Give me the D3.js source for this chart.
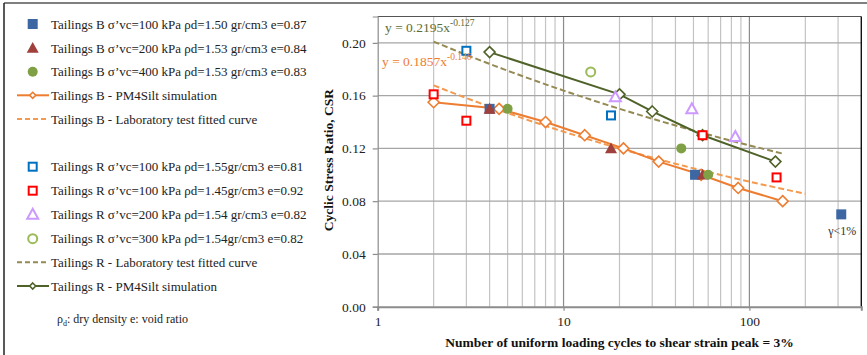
<!DOCTYPE html>
<html lang="en">
<head>
<meta charset="UTF-8">
<title>CSR vs cycles</title>
<script src="https://d3js.org/d3.v7.min.js"></script>
<style>
  body { margin: 0; background: #fff; }
  svg { display: block; }
  text { font-family: "Liberation Serif", "Times New Roman", serif; }
</style>
</head>
<body>
<svg id="chart" width="867" height="355"></svg>
<script>
// ---- data (cycles, CSR) ----
const bB100 = [[4, 0.150], [51, 0.100], [312, 0.070]];
const bB200 = [[4, 0.150], [18, 0.120], [56, 0.100]];
const bB400 = [[5, 0.150], [43, 0.120], [60, 0.100]];
const bSim  = [[2, 0.155], [4.5, 0.150], [8, 0.140], [13, 0.130], [21, 0.120], [32.5, 0.110], [55, 0.100], [87, 0.090], [151, 0.080]];
const bFit  = { a: 0.1857, b: -0.146, from: 2, to: 200 };

const rR100a = [[3, 0.194], [18, 0.145]];
const rR100b = [[2, 0.161], [3, 0.141], [56, 0.130], [140, 0.098]];
const rR200  = [[19, 0.159], [49, 0.150], [84, 0.129]];
const rR300  = [[14, 0.178]];
const rFit   = { a: 0.2195, b: -0.127, from: 2, to: 150 };
const rSim   = [[4, 0.193], [20, 0.161], [30, 0.148], [56, 0.130], [138, 0.110]];

const yTicks = [0, 0.04, 0.08, 0.12, 0.16, 0.20];
const xTicks = [1, 10, 100];

const legendItems = [
  { label: "Tailings B σ’vc=100 kPa ρd=1.50 gr/cm3 e=0.87", kind: "square", color: "#3D67A3", fill: true },
  { label: "Tailings B σ’vc=200 kPa ρd=1.53 gr/cm3 e=0.84", kind: "triangle", color: "#A0403D", fill: true },
  { label: "Tailings B σ’vc=400 kPa ρd=1.53 gr/cm3 e=0.83", kind: "circle", color: "#80A046", fill: true },
  { label: "Tailings B - PM4Silt simulation", kind: "simline", color: "#ED7D31" },
  { label: "Tailings B - Laboratory test fitted curve", kind: "dash", color: "#F39A4E" },
  null,
  { label: "Tailings R σ’vc=100 kPa ρd=1.55gr/cm3 e=0.81", kind: "square", color: "#0070C0", fill: false },
  { label: "Tailings R σ’vc=100 kPa ρd=1.45gr/cm3 e=0.92", kind: "square", color: "#FF0000", fill: false },
  { label: "Tailings R σ’vc=200 kPa ρd=1.54 gr/cm3 e=0.82", kind: "triangle", color: "#CC99FF", fill: false },
  { label: "Tailings R σ’vc=300 kPa ρd=1.54gr/cm3 e=0.82", kind: "circle", color: "#9BBB59", fill: false },
  { label: "Tailings R - Laboratory test fitted curve", kind: "dash", color: "#948A54" },
  { label: "Tailings R - PM4Silt simulation", kind: "simline", color: "#4F6228" }
];

const svg = d3.select("#chart");
const W = 867, H = 355;
const m = { left: 377.7, right: 861.3, top: 16.5, bottom: 306.7 };

const x = d3.scaleLog().domain([1, 400]).range([m.left, m.right]);
const y = d3.scaleLinear().domain([0, 0.22]).range([m.bottom, m.top]);

// outer frame (only top and left visible)
svg.append("line").attr("x1", 4).attr("x2", W).attr("y1", 3).attr("y2", 3)
  .attr("stroke", "#555").attr("stroke-width", 1.5);
svg.append("line").attr("x1", 4).attr("x2", 4).attr("y1", 3).attr("y2", H)
  .attr("stroke", "#222").attr("stroke-width", 1.5);

// grid
const grid = svg.append("g");
const minor = [];
for (let k = 1; k <= 100; k *= 10)
  for (let j = 2; j <= 9; j++) if (j * k < 400) minor.push(j * k);
grid.selectAll(".minor").data(minor).enter().append("line")
  .attr("x1", d => x(d)).attr("x2", d => x(d))
  .attr("y1", m.top).attr("y2", m.bottom)
  .attr("stroke", "#c4c4c4").attr("stroke-width", 1.2);
grid.selectAll(".major").data(xTicks.slice(1)).enter().append("line")
  .attr("x1", d => x(d)).attr("x2", d => x(d))
  .attr("y1", m.top).attr("y2", m.bottom)
  .attr("stroke", "#8c8c8c").attr("stroke-width", 1.2);
grid.selectAll(".hgrid").data(yTicks.slice(1)).enter().append("line")
  .attr("x1", m.left).attr("x2", m.right)
  .attr("y1", d => y(d)).attr("y2", d => y(d))
  .attr("stroke", "#a6a6a6").attr("stroke-width", 1.4);

// plot frame
svg.append("line").attr("x1", m.left).attr("x2", m.right).attr("y1", m.top).attr("y2", m.top)
  .attr("stroke", "#555").attr("stroke-width", 1.2);
svg.append("line").attr("x1", m.right).attr("x2", m.right).attr("y1", m.top).attr("y2", m.bottom)
  .attr("stroke", "#111").attr("stroke-width", 1.4);

// axes
const yAxis = svg.append("g").attr("transform", `translate(${m.left},0)`)
  .call(d3.axisLeft(y).tickValues(yTicks).tickFormat(d3.format(".2f")).tickSize(5).tickPadding(7));
const xAxis = svg.append("g").attr("transform", `translate(0,${m.bottom})`)
  .call(d3.axisBottom(x).tickValues(xTicks).tickFormat(d3.format("d")).tickSize(4).tickPadding(6));
[yAxis, xAxis].forEach(a => {
  a.selectAll("text").attr("font-size", 13.5).attr("fill", "#222")
    .attr("font-family", "Liberation Serif, serif");
  a.selectAll("line").attr("stroke", "#8c8c8c").attr("stroke-width", 1.2);
  a.select(".domain").attr("stroke", "#8c8c8c");
});
xAxis.select(".domain").attr("stroke-width", 2);
yAxis.select(".domain").attr("stroke-width", 1.2);

// axis titles
svg.append("text").attr("x", (m.left + m.right) / 2).attr("y", 347)
  .attr("text-anchor", "middle").attr("font-weight", "bold").attr("font-size", 13.5)
  .attr("fill", "#111")
  .text("Number of uniform loading cycles to shear strain peak = 3%");
svg.append("text").attr("transform", "translate(333,160) rotate(-90)")
  .attr("text-anchor", "middle").attr("font-weight", "bold").attr("font-size", 13.5)
  .attr("fill", "#111")
  .text("Cyclic Stress Ratio, CSR");

const plot = svg.append("g");
const line = d3.line().x(d => x(d[0])).y(d => y(d[1]));

// fitted curves
function fitPts(f) {
  return d3.range(0, 41).map(i => {
    const c = f.from * Math.pow(f.to / f.from, i / 40);
    return [c, f.a * Math.pow(c, f.b)];
  });
}
plot.append("path").attr("d", line(fitPts(rFit))).attr("fill", "none")
  .attr("stroke", "#948A54").attr("stroke-width", 2).attr("stroke-dasharray", "6,3");
plot.append("path").attr("d", line(fitPts(bFit))).attr("fill", "none")
  .attr("stroke", "#F39A4E").attr("stroke-width", 2).attr("stroke-dasharray", "6,3");

// symbol helpers
function drawMarker(g, kind, cx, cy, color, fill) {
  if (kind === "square") {
    const s = fill ? 10 : 8;
    g.append("rect").attr("x", cx - s / 2).attr("y", cy - s / 2).attr("width", s).attr("height", s)
      .attr("fill", fill ? color : "#fff").attr("stroke", color).attr("stroke-width", fill ? 0 : 2);
  } else if (kind === "triangle") {
    const s = fill ? 6 : 5.5;
    g.append("path")
      .attr("d", `M${cx},${cy - s}L${cx + s},${cy + s * 0.8}L${cx - s},${cy + s * 0.8}Z`)
      .attr("fill", fill ? color : "#fff").attr("stroke", color).attr("stroke-width", fill ? 0 : 2);
  } else if (kind === "circle") {
    g.append("circle").attr("cx", cx).attr("cy", cy).attr("r", fill ? 5 : 4.5)
      .attr("fill", fill ? color : "#fff").attr("stroke", color).attr("stroke-width", fill ? 0 : 2);
  } else if (kind === "diamond") {
    const s = fill || 5.5;
    g.append("path")
      .attr("d", `M${cx},${cy - s}L${cx + s},${cy}L${cx},${cy + s}L${cx - s},${cy}Z`)
      .attr("fill", "#fff").attr("stroke", color).attr("stroke-width", 1.6);
  }
}

// simulations
function drawSim(data, color) {
  plot.append("path").attr("d", line(data)).attr("fill", "none")
    .attr("stroke", color).attr("stroke-width", 2);
  data.forEach(d => drawMarker(plot, "diamond", x(d[0]), y(d[1]), color));
}
drawSim(bSim, "#ED7D31");
drawSim(rSim, "#4F6228");

// test points
function drawPts(data, kind, color, fill) {
  data.forEach(d => drawMarker(plot, kind, x(d[0]), y(d[1]), color, fill));
}
drawPts(rR100a, "square", "#0070C0", false);
drawPts(rR100b, "square", "#FF0000", false);
drawPts(rR200, "triangle", "#CC99FF", false);
drawPts(rR300, "circle", "#9BBB59", false);
drawPts(bB100, "square", "#3D67A3", true);
drawPts(bB200, "triangle", "#A0403D", true);
drawPts(bB400, "circle", "#80A046", true);

// note on last point
svg.append("text").attr("x", x(bB100[2][0]) + 1).attr("y", y(bB100[2][1]) + 21)
  .attr("text-anchor", "middle").attr("font-family", "Liberation Sans, sans-serif")
  .attr("font-size", 12).attr("fill", "#333").text("γ<1%");

// equations
const eqR = svg.append("text").attr("x", 385).attr("y", 32).attr("font-size", 13.5).attr("fill", "#5E6B35");
eqR.append("tspan").text("y = 0.2195x");
eqR.append("tspan").attr("dy", -6).attr("font-size", 9.5).text("-0.127");
const eqB = svg.append("text").attr("x", 382).attr("y", 66).attr("font-size", 13.5).attr("fill", "#ED7D31");
eqB.append("tspan").text("y = 0.1857x");
eqB.append("tspan").attr("dy", -6).attr("font-size", 9.5).text("-0.146");

// legend
const leg = svg.append("g");
const rowsY = [24, 48, 71.7, 95.3, 119, 143, 166.7, 190.7, 214.3, 238.7, 262.3, 286];
legendItems.forEach((it, i) => {
  if (!it) return;
  const cy = rowsY[i];
  if (it.kind === "simline") {
    leg.append("line").attr("x1", 17).attr("x2", 49).attr("y1", cy).attr("y2", cy)
      .attr("stroke", it.color).attr("stroke-width", 2);
    drawMarker(leg, "diamond", 32.7, cy, it.color, 3);
  } else if (it.kind === "dash") {
    leg.append("line").attr("x1", 17).attr("x2", 47).attr("y1", cy).attr("y2", cy)
      .attr("stroke", it.color).attr("stroke-width", 2).attr("stroke-dasharray", "5,3");
  } else {
    drawMarker(leg, it.kind, 32.7, cy, it.color, it.fill);
  }
  leg.append("text").attr("x", 51).attr("y", cy + 4.5).attr("font-size", 13)
    .attr("fill", "#222").text(it.label);
});
const note = leg.append("text").attr("x", 57).attr("y", 323).attr("font-size", 12).attr("fill", "#222");
note.append("tspan").text("ρ");
note.append("tspan").attr("dy", 3).attr("font-size", 8).text("d");
note.append("tspan").attr("dy", -3).text(": dry density e: void ratio");
</script>
</body>
</html>
